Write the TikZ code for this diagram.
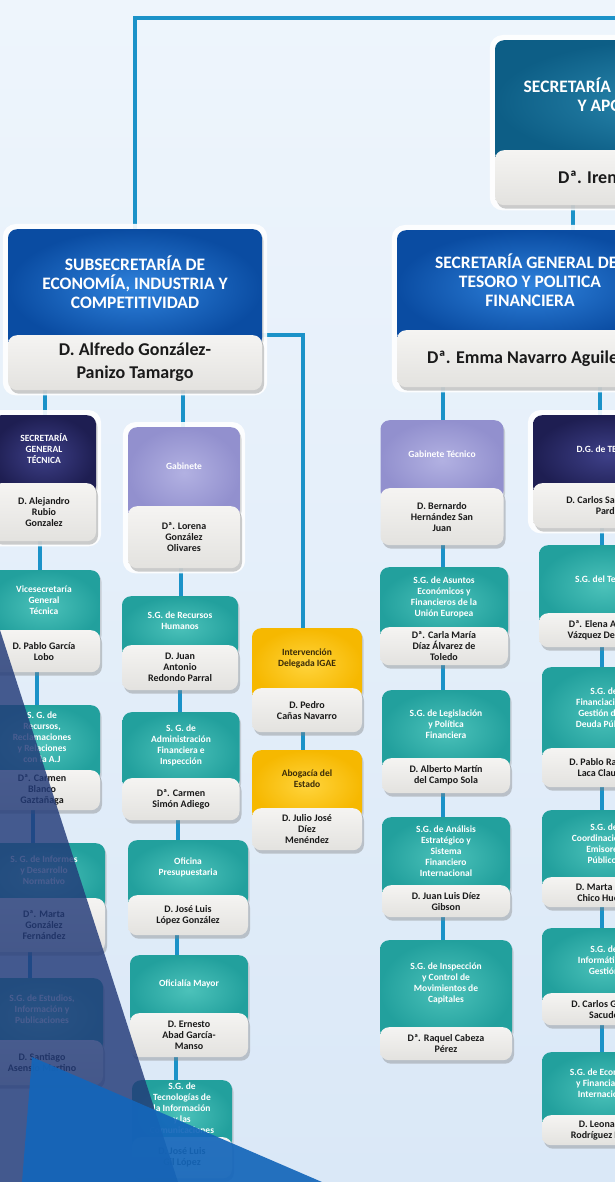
\documentclass[tikz,border=0pt]{standalone}
\usepackage{fontspec}
\setmainfont{Carlito}
\usetikzlibrary{shadows,fit}
\pgfdeclarelayer{bg}\pgfdeclarelayer{edges}\pgfdeclarelayer{frames}
\pgfsetlayers{bg,edges,frames,main}
\definecolor{bgA}{HTML}{EEF5FC}
\definecolor{bgB}{HTML}{DAE8F7}
\definecolor{conn}{HTML}{1B92C8}
\definecolor{blueD}{HTML}{0A4CA2}
\definecolor{blueL}{HTML}{2F82DC}
\definecolor{tealD}{HTML}{22A09D}
\definecolor{tealL}{HTML}{4CC2BA}
\definecolor{lavD}{HTML}{9290CE}
\definecolor{lavL}{HTML}{B2B1E2}
\definecolor{navyD}{HTML}{1E1E52}
\definecolor{navyL}{HTML}{3E4088}
\definecolor{yelD}{HTML}{F6B800}
\definecolor{yelL}{HTML}{FFD43C}
\definecolor{topD}{HTML}{0D5E86}
\definecolor{topL}{HTML}{2A88AE}
\definecolor{grayT}{HTML}{F5F4F2}
\definecolor{grayB}{HTML}{E3E2DF}
\definecolor{nameC}{HTML}{1A1A1A}
\definecolor{yelT}{HTML}{3A2B08}
\definecolor{ovl}{HTML}{223A78}
\definecolor{ovb}{HTML}{1466BA}
\tikzset{
 x=1pt, y=-1pt,
 link/.style={draw=conn, line width=3.5pt},
 tbox/.style={rounded corners=9pt, draw=none, inner sep=0pt,
   drop shadow={shadow xshift=1.5pt, shadow yshift=-2.5pt, opacity=.3}},
 gbox/.style={rounded corners=9pt, top color=grayT, bottom color=grayB, inner sep=1pt,
   align=center, text=nameC,
   drop shadow={shadow xshift=2pt, shadow yshift=-3.5pt, opacity=.4}},
 frame/.style={rounded corners=13pt, fill=white, fill opacity=.9, inner sep=5pt, draw=none},
 smalltxt/.style={inner sep=0pt, align=center, text=white, font=\fontsize{9.5}{11}\selectfont\bfseries},
 smallname/.style={font=\fontsize{10}{11}\selectfont\bfseries},
 bigtxt/.style={inner sep=0pt, align=center, text=white, font=\fontsize{17.5}{19}\selectfont\bfseries},
 bigname/.style={font=\fontsize{18}{23}\selectfont\bfseries},
 teal/.style={inner color=tealL, outer color=tealD},
 teal txt/.style={smalltxt}, teal g/.style={smallname},
 lav/.style={inner color=lavL, outer color=lavD},
 lav txt/.style={smalltxt}, lav g/.style={smallname},
 navy/.style={inner color=navyL, outer color=navyD},
 navy txt/.style={smalltxt}, navy g/.style={smallname},
 yel/.style={inner color=yelL, outer color=yelD},
 yel txt/.style={smalltxt, text=yelT}, yel g/.style={smallname},
 blue/.style={inner color=blueL, outer color=blueD},
 blue txt/.style={bigtxt}, blue g/.style={bigname},
 topc/.style={inner color=topL, outer color=topD},
 topc txt/.style={bigtxt}, topc g/.style={bigname},
}
\newcommand\orgunit[9]{%
 \node[tbox,#7,minimum width=#6,minimum height={#4-#3+12},anchor=north] (#1-t) at (#2,#3) {};
 \node[#7 txt] (#1-x) at (#2,{(#3+#4)/2}) {#8};
 \node[gbox,#7 g,minimum width=#6,minimum height={#5-#4},anchor=north] (#1-g) at (#2,#4) {#9};
}
\newcommand\vl[3]{%
 \coordinate (v-#2-#3) at (#1,0);
 \draw[link] (v-#2-#3 |- #2-g.south) -- (v-#2-#3 |- #3-t.north);
}
\newcommand\framed[1]{%
 \begin{pgfonlayer}{frames}\node[frame,fit=(#1-t)(#1-g)] (#1-f) {};\end{pgfonlayer}}
\begin{document}
\begin{tikzpicture}
\useasboundingbox (0,0) rectangle (615,1182);
\begin{pgfonlayer}{bg}
\fill[top color=bgA, bottom color=bgB] (0,0) rectangle (615,1182);
\end{pgfonlayer}

% level 1
\orgunit{irene}{665}{40}{150}{205}{340}{topc}{SECRETARÍA DE ESTADO DE ECONOMÍA\\Y APOYO A LA EMPRESA}{Dª. Irene Garrido Valenzuela}
\orgunit{sub}{135}{229}{335}{390}{254}{blue}{SUBSECRETARÍA DE\\ECONOMÍA, INDUSTRIA Y\\COMPETITIVIDAD}{D. Alfredo González-\\Panizo Tamargo}
\orgunit{secg}{530}{230}{330}{387}{266}{blue}{SECRETARÍA GENERAL DEL\\TESORO Y POLITICA\\FINANCIERA}{Dª. Emma Navarro Aguilera}
\framed{irene}\framed{sub}\framed{secg}

% column A
\orgunit{sgt}{44}{415}{483}{541}{104}{navy}{SECRETARÍA\\GENERAL\\TÉCNICA}{D. Alejandro\\Rubio\\Gonzalez}
\framed{sgt}
\orgunit{vice}{44}{570}{630}{672}{112}{teal}{Vicesecretaría\\General\\Técnica}{D. Pablo García\\Lobo}
\orgunit{rec}{42}{705}{770}{810}{116}{teal}{S. G. de\\Recursos,\\Reclamaciones\\y Relaciones\\con la A.J}{Dª. Carmen\\Blanco\\Gaztañaga}
\orgunit{inf}{44}{843}{898}{952}{122}{teal}{S. G. de Informes\\y Desarrollo\\Normativo}{Dª. Marta\\González\\Fernández}
\orgunit{est}{42}{978}{1040}{1085}{122}{teal}{S.G. de Estudios,\\Información y\\Publicaciones}{D. Santiago\\Asensio Martino}

% column B
\orgunit{gab}{184}{427}{506}{568}{112}{lav}{Gabinete}{Dª. Lorena\\González\\Olivares}
\framed{gab}
\orgunit{rrhh}{180}{596}{645}{690}{116}{teal}{S.G. de Recursos\\Humanos}{D. Juan\\Antonio\\Redondo Parral}
\orgunit{adm}{181}{712}{778}{820}{117}{teal}{S. G. de\\Administración\\Financiera e\\Inspección}{Dª. Carmen\\Simón Adiego}
\orgunit{ofi}{188}{840}{895}{935}{120}{teal}{Oficina\\Presupuestaria}{D. José Luis\\López González}
\orgunit{ofm}{189}{955}{1013}{1057}{118}{teal}{Oficialía Mayor}{D. Ernesto\\Abad García-\\Manso}
\orgunit{tec}{182}{1080}{1137}{1178}{100}{teal}{S.G. de\\Tecnologías de\\la Información\\y las\\Comunicaciones}{D. José Luis\\Gil López}

% column C
\orgunit{igae}{307}{628}{688}{732}{110}{yel}{Intervención\\Delegada IGAE}{D. Pedro\\Cañas Navarro}
\orgunit{abo}{307}{750}{808}{850}{110}{yel}{Abogacía del\\Estado}{D. Julio José\\Díez\\Menéndez}

% column D
\orgunit{gtec}{442}{420}{488}{545}{123}{lav}{Gabinete Técnico}{D. Bernardo\\Hernández San\\Juan}
\orgunit{ue}{444}{567}{627}{665}{128}{teal}{S.G. de Asuntos\\Económicos y\\Financieros de la\\Unión Europea}{Dª. Carla María\\Díaz Álvarez de\\Toledo}
\orgunit{leg}{446}{690}{758}{793}{128}{teal}{S.G. de Legislación\\y Política\\Financiera}{D. Alberto Martín\\del Campo Sola}
\orgunit{ana}{446}{817}{885}{917}{128}{teal}{S.G. de Análisis\\Estratégico y\\Sistema\\Financiero\\Internacional}{D. Juan Luis Díez\\Gibson}
\orgunit{insp}{446}{940}{1027}{1060}{132}{teal}{S.G. de Inspección\\y Control de\\Movimientos de\\Capitales}{Dª. Raquel Cabeza\\Pérez}

% column E
\orgunit{dg}{608}{415}{483}{528}{150}{navy}{D.G. de TESORO}{D. Carlos San Basilio\\Pardo}
\framed{dg}
\orgunit{tes}{604}{545}{613}{647}{130}{teal}{S.G. del Tesoro}{Dª. Elena Aparici\\Vázquez De Parga}
\orgunit{fin}{604}{667}{748}{787}{124}{teal}{S.G. de\\Financiación y\\Gestión de la\\Deuda Pública}{D. Pablo Ramón-\\Laca Clausen}
\orgunit{coo}{604}{810}{877}{907}{124}{teal}{S.G. de\\Coordinación de\\Emisores\\Públicos}{D. Marta Ruiz\\Chico Huerta}
\orgunit{inf2}{604}{928}{993}{1025}{124}{teal}{S.G. de\\Informática y\\Gestión}{D. Carlos García\\Sacudo}
\orgunit{eco}{604}{1052}{1115}{1145}{124}{teal}{S.G. de Economía\\y Financiación\\Internacional}{D. Leonardo\\Rodríguez Pérez}

% connectors
\begin{pgfonlayer}{edges}
\coordinate (topR) at (700,18);
\draw[link] (sub-t.north) |- (topR);
\vl{573}{irene}{secg}
\vl{45}{sub}{sgt}
\vl{183}{sub}{gab}
\coordinate (v-igae) at (303,0);
\draw[link] (sub-g.north east) -| (v-igae |- igae-t.north);
\vl{303}{igae}{abo}
\vl{40}{sgt}{vice}
\vl{37}{vice}{rec}
\vl{33}{rec}{inf}
\vl{30}{inf}{est}
\vl{181}{gab}{rrhh}
\vl{180}{rrhh}{adm}
\vl{178}{adm}{ofi}
\vl{177}{ofi}{ofm}
\vl{176}{ofm}{tec}
\vl{443}{secg}{gtec}
\vl{443}{gtec}{ue}
\vl{443}{ue}{leg}
\vl{443}{leg}{ana}
\vl{443}{ana}{insp}
\vl{600}{secg}{dg}
\vl{602}{dg}{tes}
\vl{602}{tes}{fin}
\vl{602}{fin}{coo}
\vl{602}{coo}{inf2}
\vl{602}{inf2}{eco}
\end{pgfonlayer}

% decorative overlays
\fill[ovl, opacity=.82] (0,630) -- (178,1182) -- (0,1182) -- cycle;
\fill[ovb, opacity=.92] (32,1057) -- (322,1182) -- (22,1182) -- cycle;
\end{tikzpicture}
\end{document}
